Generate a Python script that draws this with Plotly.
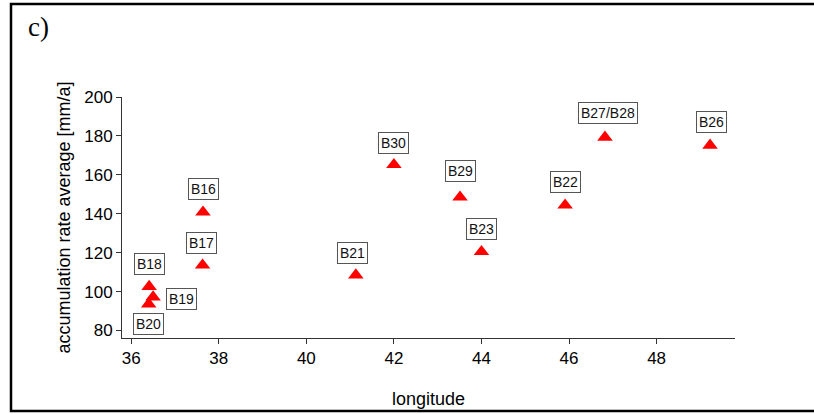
import plotly.graph_objects as go

# data
labels = ["B16", "B17", "B18", "B19", "B20", "B21", "B30", "B29", "B23", "B22", "B27/B28", "B26"]
longitude = [37.64, 37.63, 36.41, 36.50, 36.40, 41.13, 42.00, 43.51, 44.00, 45.91, 46.82, 49.22]
accum_rate = [140.8, 113.6, 102.6, 97.2, 93.6, 108.5, 165.2, 148.5, 120.5, 144.4, 179.3, 175.2]
x_ticks = [36, 38, 40, 42, 44, 46, 48]
y_ticks = [80, 100, 120, 140, 160, 180, 200]

# label offsets in pixels (placement style)
label_dx = [0, -1, 0, 28, 0, -3, 0, 0, 0, 0, 3, 1]
label_dy = [23, 22, 23, -2, -20, 22, 22, 26, 23, 23, 24, 23]

W, H = 814, 414
L, R, T, B = 122, 79, 97, 76
pw, ph = W - L - R, H - T - B

def px_to_paper(x, y):
    return (x - L) / pw, (H - B - y) / ph

fig = go.Figure()
fig.add_trace(go.Scatter(
    x=longitude, y=accum_rate, mode="markers",
    marker=dict(symbol="triangle-up", size=13.5, color="#ff0000", line=dict(width=0)),
    showlegend=False, hoverinfo="x+y",
))

for lab, xv, yv, dx, dy in zip(labels, longitude, accum_rate, label_dx, label_dy):
    fig.add_annotation(
        x=xv, y=yv, xref="x", yref="y", text=lab, showarrow=False,
        xshift=dx, yshift=dy,
        font=dict(family="Liberation Sans, Arial", size=14, color="#111111"),
        bordercolor="#555555", borderwidth=1, borderpad=2, bgcolor="white",
    )

# panel letter
cx, cy = px_to_paper(38, 27)
fig.add_annotation(x=cx, y=cy, xref="paper", yref="paper", text="c)", showarrow=False,
                   font=dict(family="Liberation Serif, Times New Roman", size=27, color="black"),
                   xanchor="center", yanchor="middle")

# outer frame
x0, y0 = px_to_paper(11, 411)
x1, y1 = px_to_paper(830, 4)
fig.add_shape(type="rect", xref="paper", yref="paper", x0=x0, y0=y0, x1=x1, y1=y1,
              line=dict(color="black", width=2.5), fillcolor="rgba(0,0,0,0)")

axis_font = dict(family="Liberation Sans, Arial", size=17, color="black")
fig.update_xaxes(
    range=[35.79, 49.79], tickvals=x_ticks, ticktext=[str(v) for v in x_ticks],
    showline=True, linecolor="#333333", linewidth=1, mirror=False,
    ticks="outside", ticklen=5, tickcolor="#333333", tickwidth=1,
    showgrid=False, zeroline=False, tickfont=axis_font,
    title=dict(text="longitude", font=dict(family="Liberation Sans, Arial", size=18, color="black"), standoff=24),
)
fig.update_yaxes(
    range=[76.15, 200], tickvals=y_ticks, ticktext=[str(v) for v in y_ticks],
    showline=True, linecolor="#333333", linewidth=1, mirror=False,
    ticks="outside", ticklen=5, tickcolor="#333333", tickwidth=1,
    showgrid=False, zeroline=False, tickfont=axis_font,
    title=dict(text="accumulation rate average [mm/a]", font=dict(family="Liberation Sans, Arial", size=18, color="black"), standoff=8),
)
fig.update_layout(
    width=W, height=H, margin=dict(l=L, r=R, t=T, b=B, autoexpand=False),
    paper_bgcolor="white", plot_bgcolor="white",
)
fig.write_html("out.html", config={"displayModeBar": False},
               post_script="document.body.style.margin='0px';document.body.style.overflow='hidden';")
